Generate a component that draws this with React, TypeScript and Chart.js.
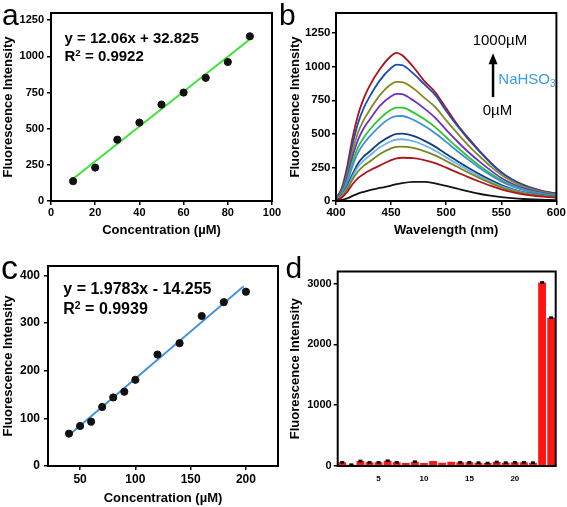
import React, { useEffect, useRef } from 'react';
import { Chart, registerables } from 'chart.js';

Chart.register(...registerables);

const FONT = '"Liberation Sans", Arial, Helvetica, sans-serif';

// ---------- Panel a ----------
const concA = [10, 20, 30, 40, 50, 60, 70, 80, 90];
const intensityA = [137, 231, 424, 542, 667, 750, 852, 961, 1139];
const fitAX = [10, 90];
const fitAY = [153.4, 1118.2];
const xTicksA = [0, 20, 40, 60, 80, 100];
const yTicksA = [0, 250, 500, 750, 1000, 1250];

// ---------- Panel b ----------
const wavelengths = [400, 405, 410, 415, 420, 425, 430, 440, 450, 455, 460, 470, 480, 490, 500, 510, 520, 530, 540, 550, 560, 570, 580, 590, 600];
const spec0 = [2, 8, 20, 38, 55, 68, 80, 97, 115, 125, 133, 142, 143, 132, 112, 92, 72, 54, 40, 29, 21, 15, 11, 9, 7];
const spec1 = [8, 25, 65, 125, 170, 200, 225, 265, 305, 318, 322, 320, 305, 282, 248, 213, 178, 145, 114, 87, 66, 50, 39, 31, 25];
const spec2 = [10, 32, 85, 160, 220, 262, 290, 350, 392, 403, 405, 395, 372, 340, 298, 255, 212, 172, 135, 102, 77, 58, 45, 35, 28];
const spec3 = [11, 36, 95, 180, 255, 300, 335, 400, 445, 458, 460, 445, 415, 375, 325, 277, 230, 186, 146, 110, 83, 63, 48, 37, 30];
const spec4 = [12, 40, 105, 200, 280, 330, 365, 435, 485, 500, 502, 485, 450, 405, 350, 298, 247, 200, 157, 119, 89, 67, 51, 40, 32];
const spec5 = [15, 50, 135, 260, 360, 425, 475, 560, 620, 632, 633, 605, 560, 505, 440, 372, 308, 248, 194, 146, 109, 82, 62, 48, 38];
const spec6 = [16, 55, 150, 290, 400, 470, 525, 615, 680, 695, 695, 660, 610, 550, 475, 400, 330, 265, 207, 155, 116, 87, 66, 51, 40];
const spec7 = [18, 62, 170, 330, 455, 540, 600, 710, 780, 798, 795, 750, 690, 620, 530, 445, 365, 295, 230, 172, 128, 96, 73, 56, 44];
const spec8 = [20, 70, 190, 370, 510, 600, 670, 790, 870, 887, 885, 840, 770, 700, 600, 505, 415, 335, 260, 195, 145, 108, 82, 62, 48];
const spec9 = [22, 80, 220, 420, 580, 690, 770, 900, 990, 1015, 1012, 950, 870, 790, 670, 560, 460, 370, 285, 212, 158, 118, 90, 68, 53];
const spec10 = [25, 90, 250, 470, 640, 760, 850, 985, 1080, 1103, 1085, 1000, 895, 810, 690, 570, 470, 375, 290, 215, 160, 120, 92, 70, 55];
const spectra = [spec0, spec1, spec2, spec3, spec4, spec5, spec6, spec7, spec8, spec9, spec10];
const specColors = ['#141414', '#b3141c', '#76871f', '#6cb4ec', '#173d7a', '#3d8fdc', '#2ec62e', '#7030c8', '#858a22', '#1d4fb8', '#aa121c'];
const xTicksB = [400, 450, 500, 550, 600];
const yTicksB = [0, 250, 500, 750, 1000, 1250];
const arrowWave = 542.5;
const arrowFrom = 774;
const arrowTo = 1100;

// ---------- Panel c ----------
const concC = [40, 50, 60, 70, 80, 90, 100, 120, 140, 160, 180, 200];
const intensityC = [68, 84, 93, 124, 144, 156, 181, 234, 258, 315, 344, 366];
const fitCX = [42, 198];
const fitCY = [68.8, 377.4];
const xTicksC = [50, 100, 150, 200];
const yTicksC = [0, 100, 200, 300, 400];

// ---------- Panel d ----------
const categoriesD = ['1', '2', '3', '4', '5', '6', '7', '8', '9', '10', '11', '12', '13', '14', '15', '16', '17', '18', '19', '20', '21', '22', '23', '24'];
const valuesD = [60, 22, 82, 60, 60, 87, 60, 49, 71, 49, 82, 55, 71, 60, 60, 55, 49, 66, 55, 60, 60, 55, 3020, 2440];
const errD = [12, 8, 12, 8, 8, 12, 8, 0, 10, 0, 0, 0, 0, 10, 10, 10, 10, 10, 10, 10, 10, 10, 15, 15];
const tickLabelsD = ['5', '10', '15', '20'];
const yTicksD = [0, 1000, 2000, 3000];

const frame = {
  id: 'frame',
  afterDraw(chart: any) {
    const { ctx, chartArea } = chart;
    ctx.save();
    ctx.strokeStyle = '#000';
    ctx.lineWidth = 2;
    ctx.strokeRect(chartArea.left, chartArea.top, chartArea.right - chartArea.left, chartArea.bottom - chartArea.top);
    ctx.restore();
  },
};

function axis(pos: 'left' | 'bottom', o: any): any {
  const horizontal = pos === 'bottom';
  return {
    type: 'linear',
    position: pos,
    min: o.min,
    max: o.max,
    afterBuildTicks: (s: any) => {
      s.ticks = o.ticks.map((v: number) => ({ value: v }));
    },
    afterFit: (s: any) => {
      if (horizontal) s.height = o.size;
      else s.width = o.size;
    },
    ticks: {
      color: '#000',
      font: { family: FONT, size: o.fontSize, weight: 'bold' },
      padding: o.tickPad,
      maxRotation: 0,
      autoSkip: false,
      callback: (v: any) => String(v),
    },
    grid: { display: true, drawOnChartArea: false, drawTicks: true, tickLength: 4, color: '#000', lineWidth: 1.5 },
    border: { display: false },
    title: o.title
      ? {
          display: true,
          text: o.title,
          color: '#000',
          font: { family: FONT, size: 13, weight: 'bold', lineHeight: 1.2 },
          padding: horizontal ? { top: 0, bottom: o.titlePad } : { top: o.titlePad, bottom: 0 },
        }
      : { display: false },
  };
}

function baseOptions(pad: any, scales: any): any {
  return {
    responsive: false,
    animation: false,
    layout: { padding: pad },
    plugins: { legend: { display: false }, tooltip: { enabled: false } },
    scales,
  };
}

function makeA(): any {
  return {
    type: 'scatter',
    data: {
      datasets: [
        {
          data: concA.map((x, i) => ({ x, y: intensityA[i] })),
          backgroundColor: '#111',
          borderColor: '#111',
          pointRadius: 3.6,
          showLine: false,
        },
        {
          data: fitAX.map((x, i) => ({ x, y: fitAY[i] })),
          borderColor: '#3fe23a',
          borderWidth: 2,
          pointRadius: 0,
          showLine: true,
        },
      ],
    },
    options: baseOptions({ left: 0, top: 13, right: 11, bottom: 0 }, {
      x: axis('bottom', { min: 0, max: 100, ticks: xTicksA, size: 49, fontSize: 11, tickPad: 1.5, title: 'Concentration (\u00b5M)', titlePad: 12.2 }),
      y: axis('left', { min: 0, max: 1300, ticks: yTicksA, size: 51, fontSize: 11, tickPad: 3, title: 'Fluorescence Intensity', titlePad: 0.5 }),
    }),
    plugins: [frame],
  };
}

const arrowPlugin = {
  id: 'arrowB',
  afterDraw(chart: any) {
    const { ctx, scales } = chart;
    const x = scales.x.getPixelForValue(arrowWave);
    const yb = scales.y.getPixelForValue(arrowFrom);
    const yt = scales.y.getPixelForValue(arrowTo);
    ctx.save();
    ctx.strokeStyle = '#000';
    ctx.fillStyle = '#000';
    ctx.lineWidth = 2.5;
    ctx.beginPath();
    ctx.moveTo(x, yb);
    ctx.lineTo(x, yt + 9);
    ctx.stroke();
    ctx.beginPath();
    ctx.moveTo(x, yt);
    ctx.lineTo(x - 4.5, yt + 11);
    ctx.lineTo(x + 4.5, yt + 11);
    ctx.closePath();
    ctx.fill();
    ctx.restore();
  },
};

function makeB(): any {
  return {
    type: 'line',
    data: {
      datasets: spectra.map((s, k) => ({
        data: wavelengths.map((x, i) => ({ x, y: s[i] })),
        borderColor: specColors[k],
        borderWidth: 1.8,
        pointRadius: 0,
        cubicInterpolationMode: 'monotone',
        fill: false,
      })),
    },
    options: baseOptions({ left: 0, top: 13, right: 10, bottom: 0 }, {
      x: axis('bottom', { min: 400, max: 600, ticks: xTicksB, size: 49, fontSize: 11.5, tickPad: 1, title: 'Wavelength (nm)', titlePad: 12.2 }),
      y: axis('left', { min: 0, max: 1400, ticks: yTicksB, size: 53, fontSize: 11.5, tickPad: 1.5, title: 'Fluorescence Intensity', titlePad: 4.2 }),
    }),
    plugins: [frame, arrowPlugin],
  };
}

function makeC(): any {
  return {
    type: 'scatter',
    data: {
      datasets: [
        {
          data: concC.map((x, i) => ({ x, y: intensityC[i] })),
          backgroundColor: '#111',
          borderColor: '#111',
          pointRadius: 3.6,
          showLine: false,
        },
        {
          data: fitCX.map((x, i) => ({ x, y: fitCY[i] })),
          borderColor: '#3d8fe0',
          borderWidth: 1.8,
          pointRadius: 0,
          showLine: true,
        },
      ],
    },
    options: baseOptions({ left: 0, top: 16, right: 3.5, bottom: 0 }, {
      x: axis('bottom', { min: 21, max: 229, ticks: xTicksC, size: 41, fontSize: 12, tickPad: 2.8, title: 'Concentration (\u00b5M)', titlePad: 1.2 }),
      y: axis('left', { min: 0, max: 420, ticks: yTicksC, size: 48, fontSize: 12, tickPad: 4, title: 'Fluorescence Intensity', titlePad: 0.5 }),
    }),
    plugins: [frame],
  };
}

const errorPlugin = {
  id: 'errD',
  afterDatasetsDraw(chart: any) {
    const { ctx, scales } = chart;
    const meta = chart.getDatasetMeta(0);
    ctx.save();
    ctx.fillStyle = '#000';
    meta.data.forEach((bar: any, i: number) => {
      const e = errD[i];
      if (!e) return;
      const v = valuesD[i];
      const y1 = scales.y.getPixelForValue(v + e);
      const y2 = scales.y.getPixelForValue(v - e);
      const h = Math.max(y2 - y1, 2.6);
      ctx.fillRect(bar.x - 2, (y1 + y2) / 2 - h / 2, 4, h);
    });
    ctx.restore();
  },
};

function makeD(): any {
  return {
    type: 'bar',
    data: {
      labels: categoriesD,
      datasets: [
        {
          data: valuesD,
          backgroundColor: '#ff1414',
          borderWidth: 0,
          barPercentage: 0.86,
          categoryPercentage: 1,
        },
      ],
    },
    options: baseOptions({ left: 0, top: 21.5, right: 11.3, bottom: 0 }, {
      x: {
        type: 'category',
        position: 'bottom',
        offset: true,
        afterFit: (s: any) => {
          s.height = 41;
        },
        ticks: {
          color: '#000',
          font: { family: FONT, size: 8, weight: 'bold' },
          padding: 8,
          maxRotation: 0,
          autoSkip: false,
          callback: (_v: any, i: number) => (tickLabelsD.includes(categoriesD[i]) ? categoriesD[i] : ''),
        },
        grid: { display: false, drawTicks: false },
        border: { display: false },
      },
      y: axis('left', { min: 0, max: 3200, ticks: yTicksD, size: 54.7, fontSize: 11, tickPad: 2, title: 'Fluorescence Intensity', titlePad: 4.2 }),
    }),
    plugins: [frame, errorPlugin],
  };
}

function Panel({ x, y, w, h, make }: { x: number; y: number; w: number; h: number; make: () => any }) {
  const ref = useRef<HTMLCanvasElement | null>(null);
  useEffect(() => {
    if (!ref.current) return;
    const chart = new Chart(ref.current, make());
    return () => chart.destroy();
  }, []);
  return (
    <canvas
      ref={ref}
      width={w}
      height={h}
      style={{ position: 'absolute', left: x, top: y, width: w, height: h, display: 'block' }}
    />
  );
}

function Txt({ x, y, size, bold, color, children }: any) {
  return (
    <div
      style={{
        position: 'absolute',
        left: x,
        top: y,
        fontFamily: FONT,
        fontSize: size,
        fontWeight: bold ? 'bold' : 'normal',
        lineHeight: 1,
        whiteSpace: 'nowrap',
        color: color || '#000',
        margin: 0,
      }}
    >
      {children}
    </div>
  );
}

const supStyle: any = { fontSize: '0.65em', position: 'relative', top: '-0.5em', verticalAlign: 'baseline' };
const subStyle: any = { fontSize: '0.68em', position: 'relative', top: '0.3em', verticalAlign: 'baseline' };

export default function App() {
  return (
    <div style={{ position: 'absolute', left: 0, top: 0, width: 567, height: 507, background: '#fff', overflow: 'hidden' }}>
      <Panel x={0} y={0} w={283} h={250} make={makeA} />
      <Panel x={283} y={0} w={284} h={250} make={makeB} />
      <Panel x={0} y={250} w={283} h={257} make={makeC} />
      <Panel x={283} y={250} w={284} h={257} make={makeD} />

      <Txt x={2} y={-0.4} size={30}>a</Txt>
      <Txt x={279} y={-0.4} size={30}>b</Txt>
      <Txt x={1} y={249.5} size={34}>c</Txt>
      <Txt x={285.5} y={252.9} size={30}>d</Txt>

      <Txt x={64.5} y={29.8} size={15} bold>y = 12.06x + 32.825</Txt>
      <Txt x={64.5} y={48} size={15} bold>
        R<span style={supStyle}>2</span> = 0.9922
      </Txt>

      <Txt x={63.3} y={281.3} size={16} bold>y = 1.9783x - 14.255</Txt>
      <Txt x={63.3} y={301.3} size={16} bold>
        R<span style={supStyle}>2</span> = 0.9939
      </Txt>

      <Txt x={472.7} y={31.6} size={15}>1000µM</Txt>
      <Txt x={498.3} y={71.3} size={15} color="#3d9be9">
        NaHSO<span style={subStyle}>3</span>
      </Txt>
      <Txt x={482.7} y={102} size={15}>0µM</Txt>
    </div>
  );
}
